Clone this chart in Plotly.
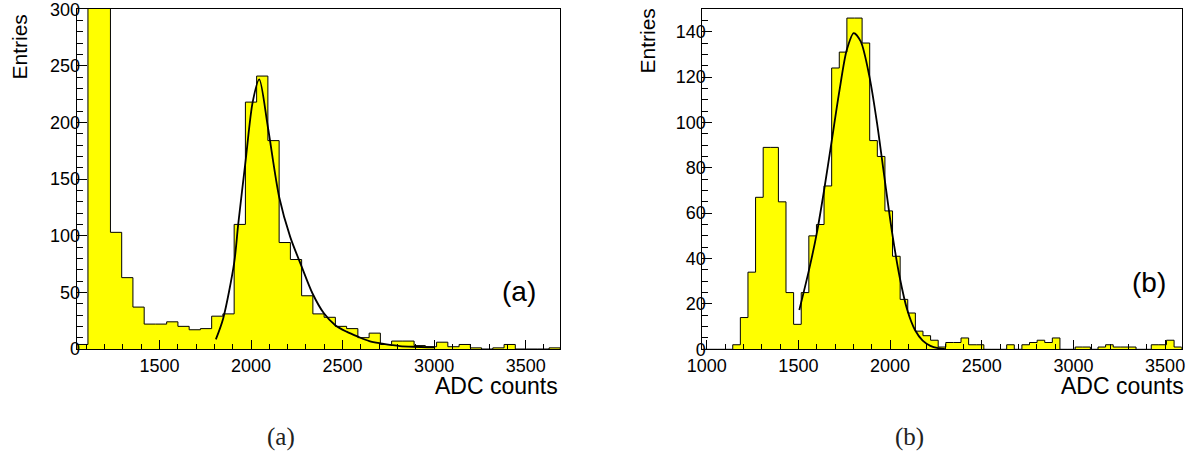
import numpy as np
import plotly.graph_objects as go

# ---------------- data: panel (a) ----------------
a_lo = 1048.0          # low edge of first bin (ADC counts)
a_width = 61.42        # bin width
a_counts = [4, 640, 410, 103, 63, 37, 22, 22, 24, 20, 17, 18, 29, 31, 110, 218, 241,
            184, 94, 79, 47, 31, 28, 20, 18, 10, 14, 4, 7, 7, 3, 2, 6, 2, 4, 1, 0, 1,
            4, 0, 0, 0, 1]
a_fit_x = [1808, 1848, 1908, 1930, 1971, 2009, 2045, 2092, 2154, 2214, 2276, 2336,
           2398, 2460, 2522, 2584, 2646, 2706, 2768, 2813, 2886, 3004]
a_fit_y = [8.5, 27, 76, 110, 167, 218, 238, 196, 134, 99, 73, 49, 31.5, 21, 15.3,
           10.9, 7, 5, 3.5, 2.6, 2, 1.5]

# ---------------- data: panel (b) ----------------
b_lo = 976.0
b_width = 41.5
b_counts = [0, 0, 0, 0, 2, 14, 34, 67, 89, 89, 65, 25, 11, 25, 50, 55, 72, 124, 131,
            146, 146, 135, 92, 85, 61, 41, 22, 16, 8, 6, 4, 1, 3, 3, 5, 2, 2, 0, 0, 0,
            2, 0, 2, 3, 4, 3, 5, 0, 0, 1, 1, 0, 1, 2, 1, 1, 1, 0, 0, 2, 2, 4, 1]
b_fit_x = [1505, 1558, 1600, 1640, 1682, 1724, 1764, 1802, 1840, 1888, 1929, 1971,
           2012, 2052, 2094, 2136, 2178, 2220, 2262, 2303]
b_fit_y = [17.3, 35, 51, 70, 92, 114, 132, 139.4, 135.7, 120, 99.7, 74.7, 51, 32,
           17.3, 8.5, 3.8, 1.5, 0.5, 0.1]

x_title = "ADC counts"
y_title = "Entries"
panel_labels = ["(a)", "(b)"]

W, H = 1188, 460
SANS = "Liberation Sans, Arial, sans-serif"
SERIF = "Liberation Serif, Times New Roman, serif"


def step_xy(lo, width, counts):
    n = len(counts)
    edges = lo + width * np.arange(n + 1)
    xs = [edges[0]] + list(edges[:n]) + [edges[n]]
    ys = [0] + list(counts) + [0]
    return xs, ys, edges[n]


fig = go.Figure()

ax, ay, a_hi = step_xy(a_lo, a_width, a_counts)
bx, by, b_hi = step_xy(b_lo, b_width, b_counts)

for xs, ys, xa, ya in [(ax, ay, "x", "y"), (bx, by, "x2", "y2")]:
    fig.add_trace(go.Scatter(x=xs, y=ys, mode="lines", line_shape="hv",
                             line=dict(color="black", width=1),
                             fill="tozeroy", fillcolor="#FFFF00",
                             xaxis=xa, yaxis=ya, showlegend=False,
                             hoverinfo="skip"))

for fx, fy, xa, ya in [(a_fit_x, a_fit_y, "x", "y"), (b_fit_x, b_fit_y, "x2", "y2")]:
    fig.add_trace(go.Scatter(x=fx, y=fy, mode="lines", line_shape="spline",
                             line=dict(color="black", width=1.8, smoothing=0.8),
                             xaxis=xa, yaxis=ya, showlegend=False))


def px(v):
    return v / W


def py(v):
    return 1 - v / H


axis_common = dict(showgrid=False, zeroline=False, showline=True, mirror=True,
                   linecolor="black", linewidth=1, ticks="inside",
                   tickcolor="black", tickwidth=1, automargin=False,
                   ticklabeloverflow="allow",
                   tickfont=dict(family=SANS, size=18, color="black"))

fig.update_layout(
    width=W, height=H,
    margin=dict(l=0, r=0, t=0, b=0),
    paper_bgcolor="white", plot_bgcolor="white",
    xaxis=dict(domain=[px(76.7), px(560.3)], range=[a_lo, a_hi], anchor="y",
               dtick=500, tick0=0, ticklen=9,
               minor=dict(ticks="inside", dtick=100, ticklen=5, tickcolor="black"),
               **axis_common),
    yaxis=dict(domain=[py(349), py(9)], range=[0, 300.2], anchor="x",
               dtick=50, ticklen=10, ticklabelstandoff=-8,
               minor=dict(ticks="inside", dtick=10, ticklen=6, tickcolor="black"),
               **axis_common),
    xaxis2=dict(domain=[px(702.3), px(1181.7)], range=[b_lo, b_hi], anchor="y2",
                dtick=500, tick0=0, ticklen=9,
                minor=dict(ticks="inside", dtick=100, ticklen=5, tickcolor="black"),
                **axis_common),
    yaxis2=dict(domain=[py(349.3), py(9)], range=[0, 150], anchor="x2",
                dtick=20, ticklen=10, ticklabelstandoff=-8,
                minor=dict(ticks="inside", dtick=5, ticklen=6, tickcolor="black"),
                **axis_common),
)

ann = []
# x titles
ann.append(dict(text=x_title, x=px(560), y=py(386), xanchor="right", yanchor="middle",
                font=dict(family=SANS, size=23, color="black")))
ann.append(dict(text=x_title, x=px(1186), y=py(386), xanchor="right", yanchor="middle",
                font=dict(family=SANS, size=23, color="black")))
# y titles
ann.append(dict(text=y_title, x=px(19), y=py(13), xanchor="center", yanchor="top",
                textangle=-90, font=dict(family=SANS, size=21, color="black")))
ann.append(dict(text=y_title, x=px(647), y=py(7), xanchor="center", yanchor="top",
                textangle=-90, font=dict(family=SANS, size=21, color="black")))
# in-plot labels
ann.append(dict(text=panel_labels[0], x=px(519), y=py(291.5), xanchor="center",
                yanchor="middle", font=dict(family=SANS, size=28, color="black")))
ann.append(dict(text=panel_labels[1], x=px(1149), y=py(282), xanchor="center",
                yanchor="middle", font=dict(family=SANS, size=28, color="black")))
# captions
ann.append(dict(text=panel_labels[0], x=px(281), y=py(437), xanchor="center",
                yanchor="middle", font=dict(family=SERIF, size=25, color="#222")))
ann.append(dict(text=panel_labels[1], x=px(909), y=py(437), xanchor="center",
                yanchor="middle", font=dict(family=SERIF, size=25, color="#222")))

for a in ann:
    a.update(xref="paper", yref="paper", showarrow=False)
fig.update_layout(annotations=ann)

fig.write_html(
    "out.html",
    config={"displayModeBar": False},
    post_script=("document.body.style.margin='0px';"
                 "document.body.style.overflow='hidden';"
                 "document.documentElement.style.overflow='hidden';"),
)
